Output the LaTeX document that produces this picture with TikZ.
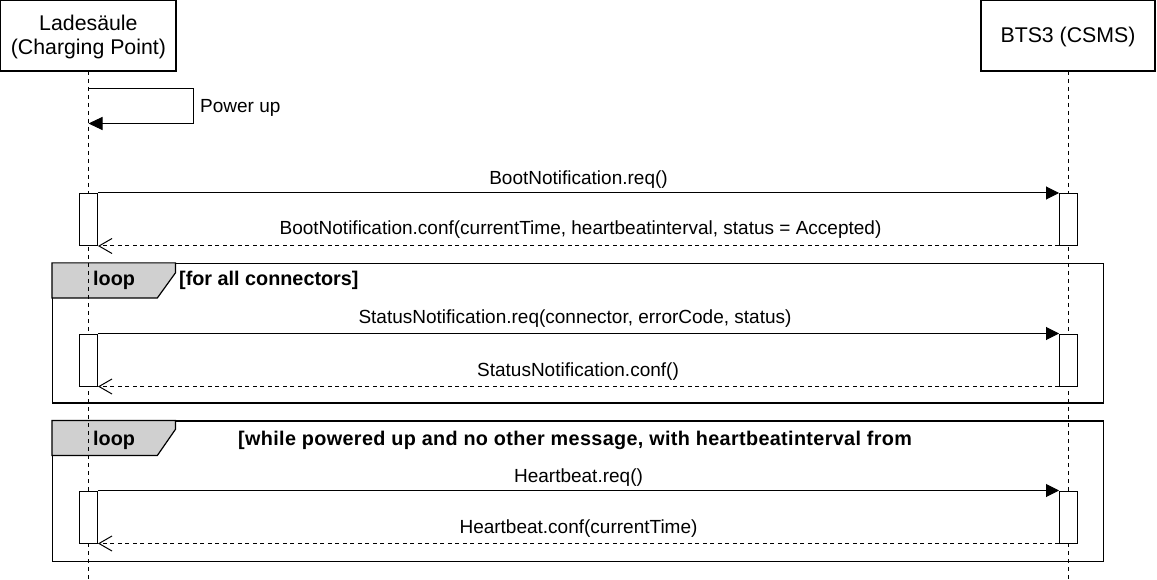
\documentclass[tikz,border=0pt]{standalone}
\usepackage{fontspec}
\setmainfont{Liberation Sans}
\usetikzlibrary{arrows.meta}
\definecolor{tabgray}{RGB}{208,208,208}
\begin{document}
\begin{tikzpicture}[x=1pt,y=-1pt,
  partbox/.style={draw, line width=1.2pt, fill=white, inner sep=0pt},
  hdr/.style={font=\fontsize{21.3}{24}\selectfont, inner sep=0pt, anchor=base},
  lbl/.style={font=\fontsize{19}{22}\selectfont, inner sep=0pt, anchor=base},
  blbl/.style={font=\fontsize{19.8}{22}\selectfont\bfseries, inner sep=0pt, anchor=base},
  life/.style={line width=1pt, dash pattern=on 4pt off 4pt},
  actbox/.style={draw, line width=1pt, fill=white, minimum width=18pt, inner sep=0pt},
  msg/.style={line width=1pt, -{Triangle[length=13pt,width=13pt]}},
  ret/.style={line width=1pt, dash pattern=on 4pt off 3.5pt, -{Straight Barb[length=13pt,width=15pt]}},
  frame/.style={draw, line width=1.2pt, inner sep=0pt},
  tab/.style={draw, line width=1.2pt, fill=tabgray}
]
\useasboundingbox (0,0) rectangle (1157,580);

% participants
\node[partbox, minimum width=175.2pt, minimum height=70.2pt] (cp) at (88.4,35.9) {};
\node[hdr] (cpt1) at (88.4,31) {Ladesäule};
\node[hdr] (cpt2) at (88.4,55) {(Charging Point)};
\node[partbox, minimum width=174pt, minimum height=70.2pt] (cs) at (1068,35.9) {};
\node[hdr] (cst) at (1068,43) {BTS3 (CSMS)};

% frames
\node[frame, minimum width=1051pt, minimum height=139.5pt] (loopA) at (578,333.25) {};
\draw[tab] (loopA.north west) -- ++(123.5,0) -- ++(0,10) -- ++(-18,25) -- ++(-105.5,0) -- cycle;
\node[blbl, anchor=base west] (loopAt) at (93,286) {loop};
\node[blbl, anchor=base west] (loopAc) at (179,286) {[for all connectors]};

\node[frame, minimum width=1051pt, minimum height=140.5pt] (loopB) at (578,491.25) {};
\draw[tab] (loopB.north west) -- ++(123.5,0) -- ++(0,9) -- ++(-18,26) -- ++(-105.5,0) -- cycle;
\node[blbl, anchor=base west] (loopBt) at (93,445) {loop};
\node[blbl, anchor=base west] (loopBc) at (238,445) {\addfontfeature{LetterSpace=1.8}[while powered up and no other message, with heartbeatinterval from};

% lifelines
\coordinate (cpend) at (88.5,580);
\coordinate (csend) at (1068.5,580);
\draw[life] (88.5,71) -- (cpend);
\draw[life] (1068.5,71) -- (csend);

% self message
\coordinate (s1) at (88.5,88.5);
\coordinate (s2) at (88.5,123.5);
\draw[line width=1pt, -{Triangle[length=14pt,width=13pt]}] (s1) -- ++(104.5,0) |- (s2);
\node[lbl, anchor=base west] (pu) at (200,112.5) {Power up};

% activations
\node[actbox, minimum height=52pt] (la1) at (88.5,219.5) {};
\node[actbox, minimum height=52pt] (ra1) at (1068.5,219.5) {};
\node[actbox, minimum height=52pt] (la2) at (88.5,360) {};
\node[actbox, minimum height=52pt] (ra2) at (1068.5,360) {};
\node[actbox, minimum height=52pt] (la3) at (88.5,517) {};
\node[actbox, minimum height=52pt] (ra3) at (1068.5,517) {};

% messages
\draw[msg] (la1.north east) -- (ra1.north west);
\node[lbl] (m1) at (578.5,184.3) {BootNotification.req()};
\draw[ret] (ra1.south west) -- (la1.south east);
\node[lbl] (m2) at (580.5,235) {BootNotification.conf(currentTime, heartbeatinterval, status = Accepted)};

\draw[msg] (la2.north east) -- (ra2.north west);
\node[lbl] (m3) at (575,323.5) {StatusNotification.req(connector, errorCode, status)};
\draw[ret] (ra2.south west) -- (la2.south east);
\node[lbl] (m4) at (578,376.5) {StatusNotification.conf()};

\draw[msg] (la3.north east) -- (ra3.north west);
\node[lbl] (m5) at (578.5,482.5) {Heartbeat.req()};
\draw[ret] (ra3.south west) -- (la3.south east);
\node[lbl] (m6) at (578.5,533) {Heartbeat.conf(currentTime)};
\end{tikzpicture}
\end{document}
